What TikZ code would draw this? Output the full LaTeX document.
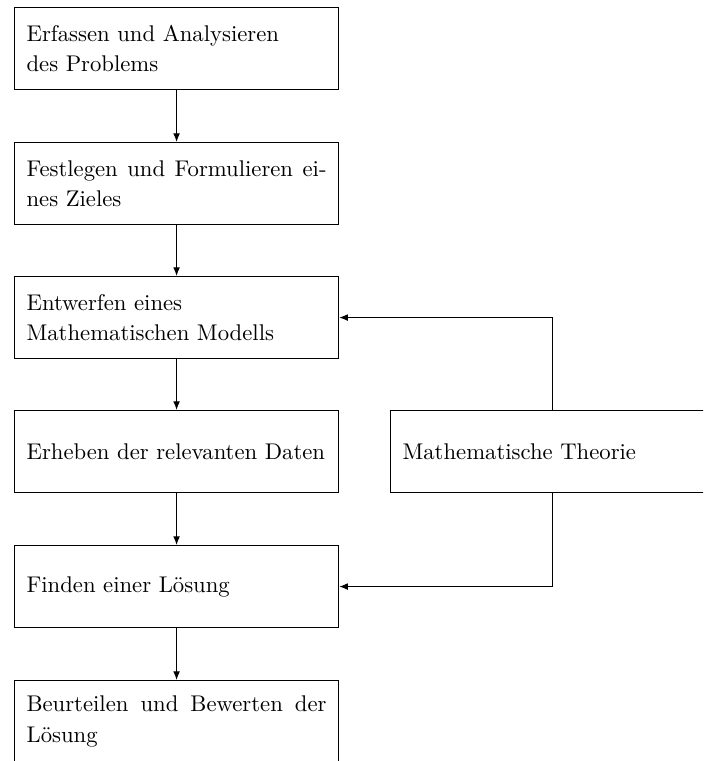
\documentclass[tikz,border=0pt]{standalone}
\usetikzlibrary{arrows.meta}
% one drawing unit = one pixel of the layout grid
\def\pxu{0.4405pt}
\tikzset{
  stage/.style={draw, rectangle, line width=0.5pt, anchor=north west,
    minimum width=324*\pxu, minimum height=82*\pxu,
    text width=300*\pxu, inner xsep=12*\pxu, inner ysep=0pt,
    align=justify, font=\fontsize{10}{13.4}\selectfont},
  flow/.style={line width=0.5pt, -{Latex[length=3.8pt,width=3pt]}}
}
\begin{document}
\begin{tikzpicture}[x=\pxu, y=-\pxu]
  \useasboundingbox (0,0) rectangle (703,761);
  \clip (0,0) rectangle (703,761);

  \node[stage] (b1) at (14,7)   {Erfassen und Analysieren\\des Problems};
  \node[stage] (b2) at (14,142) {Festlegen und Formulieren ei-\linebreak nes Zieles};
  \node[stage] (b3) at (14,276) {Entwerfen eines\\Mathematischen Modells};
  \node[stage] (b4) at (14,410) {Erheben der relevanten Daten};
  \node[stage] (b5) at (14,545) {Finden einer L\"osung};
  \node[stage] (b6) at (14,680) {Beurteilen und Bewerten der\linebreak L\"osung};

  \node[stage, inner xsep=11*\pxu] (th) at (390,410) {Mathematische Theorie};

  \draw[flow] (b1) -- (b2);
  \draw[flow] (b2) -- (b3);
  \draw[flow] (b3) -- (b4);
  \draw[flow] (b4) -- (b5);
  \draw[flow] (b5) -- (b6);
  \draw[flow] (th.north) |- (b3.east);
  \draw[flow] (th.south) |- (b5.east);
\end{tikzpicture}
\end{document}
